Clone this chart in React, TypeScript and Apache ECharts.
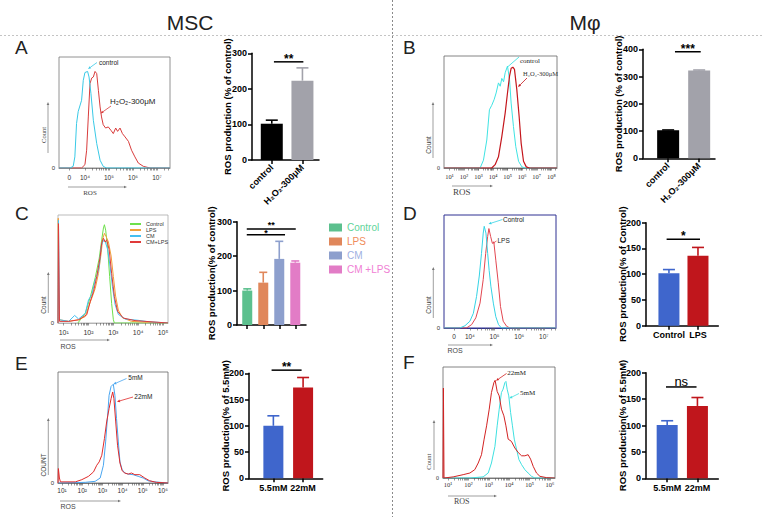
import React, { useEffect, useRef } from 'react';
import * as echarts from 'echarts';

const SANS = '"Liberation Sans", Arial, "DejaVu Sans", sans-serif';
const SERIF = '"Liberation Serif", "Times New Roman", "DejaVu Serif", serif';

// ---------------- histogram data: [log10 intensity, % of max height] ----------------
const histA_control = [[2.92,0],[3.38,0],[3.51,1.5],[3.58,10],[3.65,40],[3.72,51],[3.86,61],[3.93,79],[4.0,86],[4.11,87],[4.17,82],[4.25,67],[4.35,43],[4.49,22],[4.63,7],[4.76,1.5],[4.9,0],[7.54,0]];
const histA_h2o2 = [[2.92,0],[3.86,0],[4.0,3],[4.07,16],[4.14,46],[4.21,76],[4.28,81],[4.35,82],[4.42,87],[4.49,85],[4.56,70],[4.63,55],[4.69,46],[4.76,39],[4.86,36],[4.97,37],[5.08,34],[5.18,31],[5.28,36],[5.36,33],[5.46,36],[5.56,31],[5.67,28],[5.81,24],[5.94,16],[6.08,10],[6.22,4.5],[6.43,1.5],[6.71,0],[7.54,0]];

const histB_control = [[0.63,0],[3.11,0],[3.34,7],[3.57,25],[3.75,52],[3.91,56],[4.07,61],[4.21,67],[4.37,76],[4.49,73],[4.6,80],[4.72,77],[4.83,85],[4.99,91],[5.13,79],[5.24,58],[5.4,37],[5.56,19],[5.75,6],[5.98,1],[6.21,0],[8.39,0]];
const histB_h2o2 = [[0.63,0],[3.91,0],[4.14,3],[4.37,10],[4.6,28],[4.83,49],[4.99,67],[5.13,82],[5.24,89],[5.36,90],[5.47,88],[5.63,70],[5.79,46],[5.93,22],[6.09,6],[6.28,1],[6.5,0],[8.39,0]];

const histC_control = [[1.57,0],[1.87,9],[2.07,24],[2.27,42],[2.43,60],[2.53,77],[2.6,88],[2.64,91],[2.69,86],[2.77,69],[2.85,43],[2.93,18],[3.0,3],[3.04,0],[5.2,0]];
const histC_lps = [[0.77,0],[0.78,97],[0.8,30],[0.83,3],[1.2,1.5],[1.6,3],[1.87,6],[2.0,15],[2.13,23],[2.27,32],[2.4,46],[2.51,65],[2.57,78],[2.64,83],[2.71,80],[2.8,75],[2.91,62],[3.0,43],[3.09,25],[3.2,12],[3.36,5],[3.73,1.5],[4.4,0.6],[5.2,0]];
const histC_cm = [[0.77,0],[0.79,95],[0.83,3],[1.2,1.5],[1.44,7],[1.6,3.7],[1.87,9],[2.0,21.5],[2.13,26],[2.27,40],[2.33,43],[2.43,52],[2.51,71],[2.57,75],[2.63,77],[2.69,74],[2.77,68],[2.87,52],[2.96,34],[3.07,17],[3.2,8],[3.47,3.7],[4.0,2.5],[4.4,1.2],[5.2,0]];
const histC_cmlps = [[0.77,0],[0.79,92],[0.83,1.5],[1.2,1.5],[1.6,3],[1.93,7.7],[2.07,20],[2.2,29],[2.33,43],[2.47,61.5],[2.53,74],[2.6,78.5],[2.67,75],[2.73,77],[2.83,68],[2.93,46],[3.04,24.6],[3.17,10.8],[3.4,4.6],[3.87,2.2],[5.2,0]];

const histD_control = [[2.95,0],[3.59,0],[3.8,2],[4.0,6],[4.14,13],[4.27,28],[4.38,46],[4.47,66],[4.54,84],[4.58,90],[4.65,84],[4.72,66],[4.78,51],[4.85,37],[4.95,22],[5.05,10],[5.16,3],[5.28,0],[7.49,0]];
const histD_lps = [[2.95,0],[3.86,0],[4.07,3],[4.24,9],[4.41,22],[4.54,43],[4.64,66],[4.72,81],[4.77,88],[4.84,81],[4.91,75],[4.97,76],[5.05,60],[5.15,40],[5.24,19],[5.35,6],[5.49,1.5],[5.62,0],[7.49,0]];

const histE_5mM = [[0.8,0],[2.15,0.6],[2.64,1.5],[2.89,4.5],[3.05,16],[3.16,37],[3.26,61],[3.33,79],[3.43,87],[3.54,89],[3.62,79],[3.7,58],[3.79,37],[3.87,19],[3.98,12],[4.11,9],[4.28,8],[4.52,7.5],[4.77,6],[5.02,4.5],[5.26,2],[5.59,1],[6.25,0]];
const histE_22mM = [[0.8,0],[0.82,13],[0.87,4.5],[0.92,1],[1.66,1],[1.98,3],[2.31,6],[2.56,10],[2.72,16],[2.84,19],[2.97,25],[3.1,40],[3.21,55],[3.33,67],[3.43,76],[3.51,82],[3.57,76],[3.66,55],[3.75,34],[3.87,18],[3.98,11],[4.11,9],[4.28,8],[4.44,9],[4.61,7.5],[4.85,7.5],[5.1,4.5],[5.34,2],[5.67,0.6],[6.25,0]];

const histF_22mM = [[0.75,0],[0.77,81],[0.8,0],[1.25,1],[1.74,3],[2.07,4.5],[2.31,7.5],[2.48,13.5],[2.64,21],[2.77,35],[2.89,47],[3.02,62],[3.13,77],[3.25,86],[3.31,88],[3.41,78],[3.51,74],[3.62,62],[3.74,56],[3.84,47],[3.95,35],[4.11,33],[4.28,27],[4.44,23],[4.61,20],[4.77,20],[4.93,21],[5.05,17],[5.18,10.5],[5.34,4.5],[5.51,1.5],[5.84,0.3],[6.25,0]];
const histF_5mM = [[0.75,0],[2.07,0],[2.72,1],[2.97,4.5],[3.13,13.5],[3.3,28.5],[3.41,47],[3.51,62],[3.62,77],[3.7,80],[3.79,86],[3.84,87],[3.9,80],[3.98,74],[4.07,59],[4.16,47],[4.25,35],[4.36,26],[4.48,16.5],[4.61,12],[4.77,7.5],[4.93,4.5],[5.1,1.5],[5.26,0],[6.25,0]];

// histogram tick positions and labels
const ticksA = [3.35, 4, 5, 6, 7];
const tickLabelsA = ['0', '10⁴', '10⁵', '10⁶', '10⁷'];
const ticksB = [1, 2, 3, 4, 5, 6, 7, 8];
const tickLabelsB = ['10¹', '10²', '10³', '10⁴', '10⁵', '10⁶', '10⁷', '10⁸'];
const ticksC = [1, 2, 3, 4, 5];
const tickLabelsC = ['10¹', '10²', '10³', '10⁴', '10⁵'];
const ticksD = [3.36, 4, 5, 6, 7];
const tickLabelsD = ['0', '10⁴', '10⁵', '10⁶', '10⁷'];
const ticksE = [1, 2, 3, 4, 5, 6];
const tickLabelsE = ['10¹', '10²', '10³', '10⁴', '10⁵', '10⁶'];
const ticksF = [1, 2, 3, 4, 5, 6];
const tickLabelsF = ['10¹', '10²', '10³', '10⁴', '10⁵', '10⁶'];

// ---------------- bar data ----------------
const catsA = ['control', 'H₂O₂-300μM'];
const meanA = [102, 223];
const errA = [112, 259];
const sigA = [[1.07, 2.03, 276]];
const sigLabelA = ['**'];

const catsB = ['control', 'H₂O₂-300μM'];
const meanB = [103, 322];
const errB = [104, 324];
const sigB = [[1.22, 2.05, 391]];
const sigLabelB = ['***'];

const catsC = ['Control', 'LPS', 'CM', 'CM +LPS'];
const meanC = [100, 123, 192, 181];
const errC = [105, 153, 243, 186];
const sigC = [[0.97, 3.36, 262], [0.97, 4.03, 279]];
const sigLabelC = ['*', '**'];

const catsD = ['Control', 'LPS'];
const meanD = [102, 136];
const errD = [109, 152];
const sigD = [[0.92, 2.07, 168]];
const sigLabelD = ['*'];

const catsE = ['5.5mM', '22mM'];
const meanE = [100, 173];
const errE = [119, 192];
const sigE = [[0.94, 1.95, 206]];
const sigLabelE = ['**'];

const catsF = ['5.5mM', '22mM'];
const meanF = [101, 137];
const errF = [109, 153];
const sigF = [[0.96, 1.97, 173]];
const sigLabelF = ['ns'];

const histLegendC = ['Control', 'LPS', 'CM', 'CM+LPS'];

function lookup(ticks: number[], labels: string[]) {
  return (v: number) => {
    const i = ticks.findIndex((t) => Math.abs(t - v) < 1e-6);
    return i >= 0 ? labels[i] : '';
  };
}

function withMinor(ticks: number[], xmax: number) {
  const out: number[] = [...ticks];
  ticks.forEach((t) => {
    if (Math.abs(t - Math.round(t)) < 1e-9) {
      for (let k = 2; k <= 9; k++) {
        const v = t + Math.log10(k);
        if (v < xmax) out.push(v);
      }
    }
  });
  return out;
}

function arrow(x1: number, y1: number, x2: number, y2: number, color: string, head = 3.5, w = 0.8): any[] {
  const a = Math.atan2(y2 - y1, x2 - x1);
  const bx = x2 - head * Math.cos(a);
  const by = y2 - head * Math.sin(a);
  const px = head * 0.45 * Math.sin(a);
  const py = head * 0.45 * Math.cos(a);
  return [
    { type: 'line', silent: true, shape: { x1, y1, x2: bx, y2: by }, style: { stroke: color, lineWidth: w } },
    { type: 'polygon', silent: true, shape: { points: [[x2, y2], [bx + px, by - py], [bx - px, by + py]] }, style: { fill: color } },
  ];
}

function txt(x: number, y: number, text: string, size: number, opts: any = {}): any {
  return {
    type: 'text', silent: true, x, y, rotation: opts.rotation || 0,
    style: {
      text, fontSize: size, fontFamily: opts.font || SANS, fontWeight: opts.weight || 'normal',
      fill: opts.color || '#222', align: opts.align || 'left', verticalAlign: 'middle',
    },
  };
}

function buildOption() {
  const grids: any[] = [];
  const xAxes: any[] = [];
  const yAxes: any[] = [];
  const series: any[] = [];

  const addHist = (p: any) => {
    const idx = grids.length;
    grids.push({ ...p.grid, show: true, borderColor: p.border, borderWidth: p.borderWidth || 0.8, backgroundColor: 'transparent', containLabel: false, outerBoundsMode: 'none' });
    xAxes.push({
      gridIndex: idx, type: 'value', min: p.xmin, max: p.xmax,
      axisLine: { show: true, onZero: false, lineStyle: { color: p.border, width: p.borderWidth || 0.8 } },
      axisTick: { show: true, customValues: withMinor(p.ticks, p.xmax), length: 2.5, lineStyle: { color: '#555', width: 0.6 } },
      axisLabel: { show: true, customValues: p.ticks, formatter: lookup(p.ticks, p.labels), fontSize: p.labelSize, fontFamily: p.labelFont, color: '#333', margin: p.labelMargin, hideOverlap: false },
      splitLine: { show: false },
    });
    yAxes.push({
      gridIndex: idx, type: 'value', min: 0, max: 100,
      axisLine: { show: false, onZero: false }, axisTick: { show: false }, splitLine: { show: false },
      axisLabel: { show: true, customValues: [0], formatter: () => '0', fontSize: 6, color: '#333', margin: 4, fontFamily: p.labelFont },
    });
    p.lines.forEach((l: any) => {
      series.push({
        type: 'line', name: l.name, xAxisIndex: idx, yAxisIndex: idx, data: l.data,
        symbol: 'none', showSymbol: false, silent: true,
        lineStyle: { color: l.color, width: l.width || 1 }, itemStyle: { color: l.color },
      });
    });
  };

  const addBar = (p: any) => {
    const idx = grids.length;
    grids.push({ ...p.grid, containLabel: false, outerBoundsMode: 'none' });
    const pos = p.cats.map((_: any, i: number) => i + 1);
    xAxes.push({
      gridIndex: idx, type: 'value', min: p.xmin, max: p.xmax,
      axisLine: { show: true, onZero: false, lineStyle: { color: '#000', width: 1.5 } },
      axisTick: { show: true, customValues: pos, length: 4, lineStyle: { color: '#000', width: 1.5 } },
      axisLabel: {
        show: p.showLabels, customValues: pos, formatter: lookup(pos, p.cats), rotate: p.rotate || 0,
        fontSize: 9, fontWeight: 'bold', color: '#000', fontFamily: SANS, margin: p.rotate ? 6 : 5, hideOverlap: false,
      },
      splitLine: { show: false },
    });
    yAxes.push({
      gridIndex: idx, type: 'value', min: 0, max: p.ymax, interval: p.interval,
      axisLine: { show: true, onZero: false, lineStyle: { color: '#000', width: 1.5 } },
      axisTick: { show: true, length: 4, lineStyle: { color: '#000', width: 1.5 } },
      axisLabel: { fontSize: 9, fontWeight: 'bold', color: '#000', fontFamily: SANS, margin: 5 },
      splitLine: { show: false },
      name: p.yname, nameLocation: 'middle', nameGap: p.nameGap, nameRotate: 90, nameMoveOverlap: false,
      nameTextStyle: { fontSize: p.nameSize || 9.5, fontWeight: 'bold', color: '#000', fontFamily: SANS },
    });
    if (p.legendSeries) {
      p.cats.forEach((c: string, i: number) => {
        series.push({
          type: 'bar', name: c, xAxisIndex: idx, yAxisIndex: idx, barWidth: p.barWidth, barGap: '-100%',
          data: [[pos[i], p.means[i]]], itemStyle: { color: p.colors[i] }, silent: true,
        });
      });
    } else {
      series.push({
        type: 'bar', name: p.key + '-bars', xAxisIndex: idx, yAxisIndex: idx, barWidth: p.barWidth, silent: true,
        data: p.means.map((m: number, i: number) => ({ value: [pos[i], m], itemStyle: { color: p.colors[i] } })),
      });
    }
    const colors = p.colors;
    const cap = p.capHalf;
    series.push({
      type: 'custom', name: p.key + '-err', xAxisIndex: idx, yAxisIndex: idx, clip: false, silent: true, z: 3,
      data: p.means.map((m: number, i: number) => [pos[i], m, p.errs[i]]),
      renderItem: (params: any, api: any) => {
        const a = api.coord([api.value(0), api.value(1)]);
        const b = api.coord([api.value(0), api.value(2)]);
        const c = colors[params.dataIndex];
        return {
          type: 'group', children: [
            { type: 'line', shape: { x1: a[0], y1: a[1], x2: b[0], y2: b[1] }, style: { stroke: c, lineWidth: 1.6 } },
            { type: 'line', shape: { x1: b[0] - cap, y1: b[1], x2: b[0] + cap, y2: b[1] }, style: { stroke: c, lineWidth: 1.6 } },
          ],
        };
      },
    });
    const labels = p.sigLabels;
    const sigFont = p.sigFont || 12;
    const sigOffsets = p.sigOffsets;
    series.push({
      type: 'custom', name: p.key + '-sig', xAxisIndex: idx, yAxisIndex: idx, clip: false, silent: true, z: 3,
      data: p.sig,
      renderItem: (params: any, api: any) => {
        const a = api.coord([api.value(0), api.value(2)]);
        const b = api.coord([api.value(1), api.value(2)]);
        const label = labels[params.dataIndex];
        const isNs = label === 'ns';
        const off = sigOffsets ? sigOffsets[params.dataIndex] : (isNs ? 5 : 3);
        return {
          type: 'group', children: [
            { type: 'line', shape: { x1: a[0], y1: a[1], x2: b[0], y2: b[1] }, style: { stroke: '#000', lineWidth: 1.5 } },
            {
              type: 'text', x: (a[0] + b[0]) / 2, y: a[1] - off,
              style: { text: label, fontSize: isNs ? 13 : sigFont, fontWeight: isNs ? 'normal' : 'bold', fontFamily: SANS, fill: '#000', align: 'center', verticalAlign: 'middle' },
            },
          ],
        };
      },
    });
  };

  // ---------- histograms ----------
  addHist({ grid: { left: 59, top: 57, width: 111, height: 111 }, xmin: 2.92, xmax: 7.54, ticks: ticksA, labels: tickLabelsA, border: '#777', labelFont: SANS, labelSize: 6.5, labelMargin: 6,
    lines: [{ name: 'A-H2O2', data: histA_h2o2, color: '#d83c3c' }, { name: 'A-control', data: histA_control, color: '#39c9e6' }] });
  addHist({ grid: { left: 444, top: 56, width: 113, height: 112 }, xmin: 0.63, xmax: 8.39, ticks: ticksB, labels: tickLabelsB, border: '#666', labelFont: SERIF, labelSize: 6.5, labelMargin: 5,
    lines: [{ name: 'B-control', data: histB_control, color: '#3fe3e3' }, { name: 'B-H2O2', data: histB_h2o2, color: '#c4161c', width: 1.2 }] });
  addHist({ grid: { left: 58, top: 215, width: 110, height: 108 }, xmin: 0.77, xmax: 5.2, ticks: ticksC, labels: tickLabelsC, border: '#aaa', labelFont: SANS, labelSize: 7, labelMargin: 6,
    lines: [
      { name: 'C·Control', data: histC_control, color: '#6ee04c' },
      { name: 'C·LPS', data: histC_lps, color: '#f0a03a' },
      { name: 'C·CM', data: histC_cm, color: '#45bff0' },
      { name: 'C·CM+LPS', data: histC_cmlps, color: '#e03a3a' },
    ] });
  addHist({ grid: { left: 444, top: 215, width: 112, height: 113 }, xmin: 2.95, xmax: 7.49, ticks: ticksD, labels: tickLabelsD, border: '#2e3192', borderWidth: 1, labelFont: SANS, labelSize: 6.5, labelMargin: 5,
    lines: [{ name: 'D-LPS', data: histD_lps, color: '#e24650' }, { name: 'D-control', data: histD_control, color: '#35d3e5' }] });
  addHist({ grid: { left: 58, top: 372, width: 110, height: 111 }, xmin: 0.8, xmax: 6.25, ticks: ticksE, labels: tickLabelsE, border: '#666', labelFont: SANS, labelSize: 6.5, labelMargin: 4,
    lines: [{ name: 'E-5mM', data: histE_5mM, color: '#4aa6f0' }, { name: 'E-22mM', data: histE_22mM, color: '#e02b2b' }] });
  addHist({ grid: { left: 443, top: 367, width: 112, height: 111 }, xmin: 0.75, xmax: 6.25, ticks: ticksF, labels: tickLabelsF, border: '#666', labelFont: SERIF, labelSize: 6.5, labelMargin: 3,
    lines: [{ name: 'F-5mM', data: histF_5mM, color: '#3fe0e0' }, { name: 'F-22mM', data: histF_22mM, color: '#d22222' }] });

  // ---------- bar charts ----------
  const blueRed = ['#3f66cc', '#c0161c'];
  addBar({ key: 'A', grid: { left: 252, top: 53.3, width: 67, height: 106.7 }, xmin: 0.355, xmax: 2.54, cats: catsA, means: meanA, errs: errA,
    colors: ['#000000', '#a2a2aa'], barWidth: 22, capHalf: 6, ymax: 300, interval: 100, showLabels: true, rotate: 45,
    sig: sigA, sigLabels: sigLabelA, yname: 'ROS production (% of control)', nameGap: 20 });
  addBar({ key: 'B', grid: { left: 643, top: 49.3, width: 72, height: 109 }, xmin: 0.19, xmax: 2.51, cats: catsB, means: meanB, errs: errB,
    colors: ['#000000', '#a2a2aa'], barWidth: 22, capHalf: 6, ymax: 400, interval: 100, showLabels: true, rotate: 45,
    sig: sigB, sigLabels: sigLabelB, yname: 'ROS production (% of control)', nameGap: 20 });
  addBar({ key: 'C', grid: { left: 237, top: 221.7, width: 69, height: 103.3 }, xmin: 0.36, xmax: 4.67, cats: catsC, means: meanC, errs: errC,
    colors: ['#5cc08e', '#e0875b', '#8d9fcd', '#e27cc6'], barWidth: 10, capHalf: 4, ymax: 300, interval: 100, showLabels: false,
    sig: sigC, sigLabels: sigLabelC, sigFont: 9, sigOffsets: [1.5, 4], yname: 'ROS production(% of control)', nameGap: 21, legendSeries: true });
  addBar({ key: 'D', grid: { left: 646, top: 222.7, width: 72.3, height: 103 }, xmin: 0.21, xmax: 2.7, cats: catsD, means: meanD, errs: errD,
    colors: blueRed, barWidth: 21, capHalf: 6, ymax: 200, interval: 50, showLabels: true,
    sig: sigD, sigLabels: sigLabelD, yname: 'ROS production(% of Control)', nameGap: 19 });
  addBar({ key: 'E', grid: { left: 249, top: 373.3, width: 73.7, height: 105 }, xmin: 0.18, xmax: 2.66, cats: catsE, means: meanE, errs: errE,
    colors: blueRed, barWidth: 20, capHalf: 6, ymax: 200, interval: 50, showLabels: true,
    sig: sigE, sigLabels: sigLabelE, yname: 'ROS production(% of 5.5mM)', nameGap: 19 });
  addBar({ key: 'F', grid: { left: 646, top: 372.7, width: 72.3, height: 105.6 }, xmin: 0.3, xmax: 2.69, cats: catsF, means: meanF, errs: errF,
    colors: blueRed, barWidth: 21, capHalf: 6, ymax: 200, interval: 50, showLabels: true,
    sig: sigF, sigLabels: sigLabelF, yname: 'ROS production(% of 5.5mM)', nameGap: 19 });

  // ---------- graphic annotations ----------
  const g: any[] = [];
  g.push({ type: 'line', silent: true, shape: { x1: 0, y1: 35.5, x2: 764, y2: 35.5 }, style: { stroke: '#c4c4c4', lineWidth: 1, lineDash: [2, 2] } });
  g.push({ type: 'line', silent: true, shape: { x1: 392.5, y1: 0, x2: 392.5, y2: 517 }, style: { stroke: '#8a8a8a', lineWidth: 1, lineDash: [2, 2] } });
  g.push(txt(190, 22, 'MSC', 21, { align: 'center' }));
  g.push(txt(585, 22, 'Mφ', 21, { align: 'center' }));
  [['A', 15, 47], ['B', 403, 47], ['C', 15, 213.5], ['D', 403, 213], ['E', 15, 363.5], ['F', 403, 362.5]].forEach(([t, x, y]: any) => g.push(txt(x, y, t, 19)));

  // Count labels and axis arrows
  const countLbl = (x: number, y: number, t: string, font: string, ax: number, ay1: number, ay2: number) => {
    g.push(txt(x, y, t, 6.5, { rotation: Math.PI / 2, align: 'center', font, color: '#444' }));
    g.push(...arrow(ax, ay1, ax, ay2, '#777', 3, 0.7));
  };
  countLbl(43, 135, 'Count', SERIF, 48, 153, 102);
  countLbl(428, 145, 'Count', SANS, 433, 158, 102);
  countLbl(43.3, 305, 'Count', SANS, 48.3, 313, 272);
  countLbl(428.3, 305, 'Count', SANS, 433.3, 318, 267);
  countLbl(43.3, 465, 'COUNT', SANS, 48.3, 475, 418);
  countLbl(428.3, 461.7, 'Count', SERIF, 434, 470, 420);

  const rosLbl = (x: number, y: number, font: string, size: number, ay: number, ax1: number, ax2: number) => {
    g.push(txt(x, y, 'ROS', size, { align: 'center', font, color: '#444' }));
    g.push(...arrow(ax1, ay, ax2, ay, '#777', 3, 0.7));
  };
  rosLbl(90, 192.5, SERIF, 7, 187, 68, 127);
  rosLbl(461.7, 192, SERIF, 9, 186, 452, 493);
  rosLbl(68, 346, SANS, 7, 340, 60, 110);
  rosLbl(455, 350, SANS, 7, 345, 448, 493);
  rosLbl(68, 506.7, SANS, 7, 501, 60, 121);
  rosLbl(461.7, 501.7, SERIF, 8, 496, 448, 497);

  // curve annotations
  g.push(txt(99, 62.7, 'control', 6.5, { color: '#222' }));
  g.push(...arrow(97, 62.5, 88, 69, '#39c9e6', 3, 0.8));
  g.push(txt(110, 101.7, 'H₂O₂-300μM', 8, { color: '#222' }));
  g.push(...arrow(111, 106, 100.5, 113.5, '#d83c3c', 3, 0.8));

  g.push(txt(520, 61, 'control', 7, { font: SERIF, color: '#222' }));
  g.push({ type: 'line', silent: true, shape: { x1: 507.5, y1: 67, x2: 519, y2: 57 }, style: { stroke: '#3fe3e3', lineWidth: 0.9 } });
  g.push(txt(523, 73, 'H₂O₂-300μM', 6.5, { font: SERIF, color: '#333' }));
  g.push(...arrow(527, 78, 518, 87, '#c4161c', 3, 0.8));

  g.push(txt(503, 219.3, 'Control', 6.5, { color: '#222' }));
  g.push(...arrow(502.5, 219.5, 488.5, 224, '#35d3e5', 3, 0.8));
  g.push(txt(497.5, 240.7, 'LPS', 6.5, { color: '#222' }));
  g.push(...arrow(496.5, 241, 492.3, 243.5, '#e24650', 2.5, 0.8));

  g.push(txt(128.3, 377.7, '5mM', 6.5, { color: '#222' }));
  g.push(...arrow(126.5, 378.5, 113.3, 384.3, '#4aa6f0', 3, 0.8));
  g.push(txt(134.3, 396.7, '22mM', 6.5, { color: '#222' }));
  g.push(...arrow(133, 397, 117, 401.7, '#e02b2b', 3, 0.8));

  g.push(txt(507.3, 373.3, '22mM', 7, { font: SERIF, color: '#222' }));
  g.push(...arrow(506.5, 373.5, 496, 380.7, '#d22222', 3, 0.8));
  g.push(txt(520, 393.3, '5mM', 7, { font: SERIF, color: '#222' }));
  g.push(...arrow(519, 393.5, 509.3, 398.3, '#3fe0e0', 3, 0.8));

  return {
    animation: false,
    backgroundColor: '#ffffff',
    grid: grids,
    xAxis: xAxes,
    yAxis: yAxes,
    series,
    legend: [
      {
        data: [
          { name: catsC[0], textStyle: { color: '#5fd49a' } },
          { name: catsC[1], textStyle: { color: '#f08c5a' } },
          { name: catsC[2], textStyle: { color: '#9fb1e2' } },
          { name: catsC[3], textStyle: { color: '#f080d4' } },
        ],
        orient: 'vertical', left: 329, top: 221.5, itemWidth: 13, itemHeight: 8, itemGap: 2, icon: 'rect', selectedMode: false,
        textStyle: { fontSize: 10, fontFamily: SANS, lineHeight: 12 }, padding: 0,
      },
      {
        data: histLegendC.map((n) => 'C·' + n),
        formatter: (n: string) => n.slice(2),
        orient: 'vertical', left: 130, top: 221, itemWidth: 11, itemHeight: 2, itemGap: 0, icon: 'rect', selectedMode: false,
        textStyle: { fontSize: 5.5, lineHeight: 6, fontFamily: SANS, color: '#333' }, padding: 0,
      },
    ],
    graphic: g,
  };
}

export default function App() {
  const ref = useRef<HTMLDivElement>(null);
  useEffect(() => {
    const chart = echarts.init(ref.current!, null, { renderer: 'svg' });
    chart.setOption(buildOption() as any);
    return () => chart.dispose();
  }, []);
  return <div ref={ref} style={{ position: 'fixed', left: 0, top: 0, width: 764, height: 517, background: '#fff' }} />;
}
